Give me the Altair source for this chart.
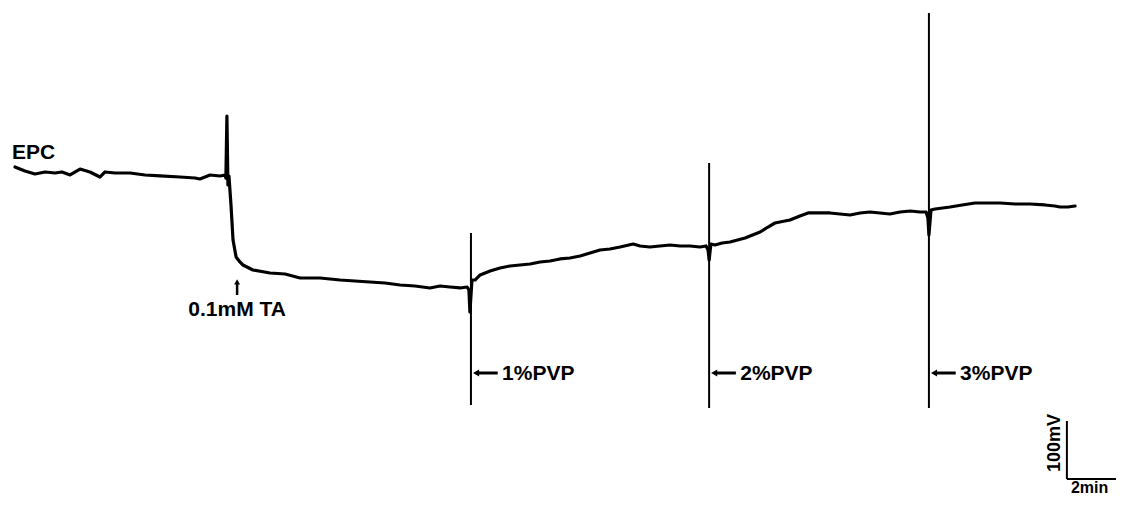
import altair as alt
import pandas as pd

# ---- data (time in min, potential in mV, relative to initial EPC level) ----
trace_t = [0.00, 0.39, 0.78, 1.18, 1.57, 1.84, 2.16, 2.55, 2.94, 3.33, 3.53, 3.92, 4.51, 5.10, 5.69,
           6.47, 7.06, 7.25, 7.65, 8.04, 8.24, 8.27, 8.31, 8.35, 8.39, 8.47, 8.55, 8.67, 8.82, 8.94,
           9.33, 10.00, 10.59, 11.18, 11.96, 12.75, 13.33, 13.92, 14.51, 15.10, 15.69, 16.27, 16.67,
           17.06, 17.45, 17.73, 17.80, 17.84, 17.92, 18.04, 18.24, 18.63, 19.02, 19.41, 19.80, 20.20,
           20.59, 20.98, 21.37, 21.76, 22.16, 22.55, 22.94, 23.33, 23.73, 24.24, 24.51, 24.90, 25.29,
           25.69, 26.08, 26.47, 26.86, 27.10, 27.18, 27.22, 27.29, 27.45, 27.73, 28.04, 28.63, 29.22,
           29.53, 29.80, 30.39, 30.78, 31.10, 31.57, 31.96, 32.35, 32.75, 33.14, 33.53, 33.92, 34.31,
           34.71, 35.10, 35.49, 35.73, 35.80, 35.84, 35.92, 36.08, 36.67, 37.14, 37.65, 38.24, 38.63,
           39.22, 39.80, 40.39, 40.78, 40.98, 41.29, 41.57]
trace_mv = [5.2, -1.7, -6.9, -3.4, -5.2, -3.4, -8.6, 1.7, -3.4, -12.1, -3.4, -5.2, -5.2, -8.6, -10.3,
            -12.1, -13.8, -15.5, -8.6, -10.3, -8.6, -13.8, 93.1, -25.9, -10.3, -60.3, -120.7, -150.0,
            -158.6, -163.8, -172.4, -177.6, -179.3, -186.2, -186.2, -189.7, -191.4, -193.1, -194.8,
            -198.3, -200.0, -203.4, -200.0, -201.7, -203.4, -201.7, -206.9, -244.8, -189.7, -189.7,
            -181.0, -174.1, -169.0, -165.5, -163.8, -162.1, -158.6, -156.9, -153.4, -151.7, -148.3,
            -143.1, -137.9, -136.2, -132.8, -127.6, -131.0, -132.8, -131.0, -129.3, -131.0, -131.0,
            -132.8, -131.0, -137.9, -155.2, -127.6, -129.3, -125.9, -124.1, -117.2, -106.9, -98.3,
            -91.4, -86.2, -79.3, -74.1, -74.1, -74.1, -75.9, -77.6, -74.1, -72.4, -74.1, -75.9,
            -72.4, -70.7, -72.4, -72.4, -82.8, -112.1, -69.0, -67.2, -63.8, -60.3, -56.9, -56.9,
            -56.9, -58.6, -58.6, -60.3, -62.1, -63.8, -63.8, -62.1]

pvp_labels = ["1%PVP", "2%PVP", "3%PVP"]
pvp_t = [17.88, 27.22, 35.84]
spike_top = [-108.6, 12.1, 270.7]
spike_bottom = [-405.2, -410.3, -410.3]

ta_label = "0.1mM TA"
ta_t = 8.71
trace_label = "EPC"

scale_t0, scale_v0 = 41.25, -532.8
scale_dt, scale_dv = 2, 100
scale_t_label, scale_v_label = "2min", "100mV"

X_DOMAIN = [-0.2745, 43.176]
Y_DOMAIN = [-563.8, 279.3]

FONT = "Liberation Sans"

xs = alt.Scale(domain=X_DOMAIN, nice=False, zero=False)
ys = alt.Scale(domain=Y_DOMAIN, nice=False, zero=False)

trace = pd.DataFrame({"t": trace_t, "v": trace_mv, "i": range(len(trace_t))})
spikes = pd.DataFrame({"t": pvp_t, "top": spike_top, "bot": spike_bottom, "label": pvp_labels})
spikes["a0"] = spikes["t"] + 0.2
spikes["a1"] = spikes["t"] + 1.05
spikes["lt"] = spikes["t"] + 1.22
spikes["ay"] = -350.0
spikes["ly"] = -362.1

line = alt.Chart(trace).mark_line(color="black", strokeWidth=3.2, strokeJoin="round",
                                  strokeCap="round").encode(
    x=alt.X("t:Q", scale=xs, axis=None),
    y=alt.Y("v:Q", scale=ys, axis=None),
    order="i:Q")

spike_rules = alt.Chart(spikes).mark_rule(color="black", strokeWidth=2).encode(
    x=alt.X("t:Q", scale=xs, axis=None),
    y=alt.Y("top:Q", scale=ys, axis=None), y2="bot:Q")

arrow_shafts = alt.Chart(spikes).mark_rule(color="black", strokeWidth=3).encode(
    x=alt.X("a0:Q", scale=xs, axis=None), x2="a1:Q",
    y=alt.Y("ay:Q", scale=ys, axis=None))
arrow_heads = alt.Chart(spikes).mark_point(shape="triangle-left", filled=True, color="black",
                                           size=50, opacity=1).encode(
    x=alt.X("a0:Q", scale=xs, axis=None),
    y=alt.Y("ay:Q", scale=ys, axis=None))
pvp_text = alt.Chart(spikes).mark_text(align="left", baseline="alphabetic", font=FONT,
                                       fontWeight="bold", fontSize=21, color="black").encode(
    x=alt.X("lt:Q", scale=xs, axis=None),
    y=alt.Y("ly:Q", scale=ys, axis=None),
    text="label:N")

ta_df = pd.DataFrame({"t": [ta_t], "v0": [-215.5], "v1": [-193.0], "ty": [-251.7], "label": [ta_label]})
ta_shaft = alt.Chart(ta_df).mark_rule(color="black", strokeWidth=2.5).encode(
    x=alt.X("t:Q", scale=xs, axis=None),
    y=alt.Y("v0:Q", scale=ys, axis=None), y2="v1:Q")
ta_head = alt.Chart(ta_df).mark_point(shape="triangle-up", filled=True, color="black",
                                      size=35, opacity=1).encode(
    x=alt.X("t:Q", scale=xs, axis=None),
    y=alt.Y("v1:Q", scale=ys, axis=None))
ta_text = alt.Chart(ta_df).mark_text(align="center", baseline="alphabetic", font=FONT,
                                     fontWeight="bold", fontSize=21, color="black").encode(
    x=alt.X("t:Q", scale=xs, axis=None),
    y=alt.Y("ty:Q", scale=ys, axis=None),
    text="label:N")

epc_df = pd.DataFrame({"t": [-0.118], "v": [19.0], "label": [trace_label]})
epc_text = alt.Chart(epc_df).mark_text(align="left", baseline="alphabetic", font=FONT,
                                       fontWeight="bold", fontSize=21, color="black").encode(
    x=alt.X("t:Q", scale=xs, axis=None),
    y=alt.Y("v:Q", scale=ys, axis=None),
    text="label:N")

bar_df = pd.DataFrame({
    "x0": [scale_t0, scale_t0], "x1": [scale_t0, scale_t0 + scale_dt],
    "y0": [scale_v0 + scale_dv, scale_v0], "y1": [scale_v0, scale_v0]})
scale_bars = alt.Chart(bar_df).mark_rule(color="black", strokeWidth=2).encode(
    x=alt.X("x0:Q", scale=xs, axis=None), x2="x1:Q",
    y=alt.Y("y0:Q", scale=ys, axis=None), y2="y1:Q")

t_lab = pd.DataFrame({"t": [scale_t0 + 0.16], "v": [scale_v0 - 24.1], "label": [scale_t_label]})
t_text = alt.Chart(t_lab).mark_text(align="left", baseline="alphabetic", font=FONT,
                                    fontWeight="bold", fontSize=16, color="black").encode(
    x=alt.X("t:Q", scale=xs, axis=None),
    y=alt.Y("v:Q", scale=ys, axis=None),
    text="label:N")
v_lab = pd.DataFrame({"t": [scale_t0 - 0.47], "v": [scale_v0 + 62.0], "label": [scale_v_label]})
v_text = alt.Chart(v_lab).mark_text(align="center", baseline="middle", angle=270, font=FONT,
                                    fontWeight="bold", fontSize=18, color="black").encode(
    x=alt.X("t:Q", scale=xs, axis=None),
    y=alt.Y("v:Q", scale=ys, axis=None),
    text="label:N")

chart = alt.layer(
    line, spike_rules, arrow_shafts, arrow_heads, pvp_text,
    ta_shaft, ta_head, ta_text, epc_text, scale_bars, t_text, v_text
).properties(
    width=1108, height=489, padding=0,
    autosize=alt.AutoSizeParams(type="none"),
    background="white"
).configure_view(stroke=None)

chart.save("out.html", embed_options={"renderer": "svg", "actions": False})
